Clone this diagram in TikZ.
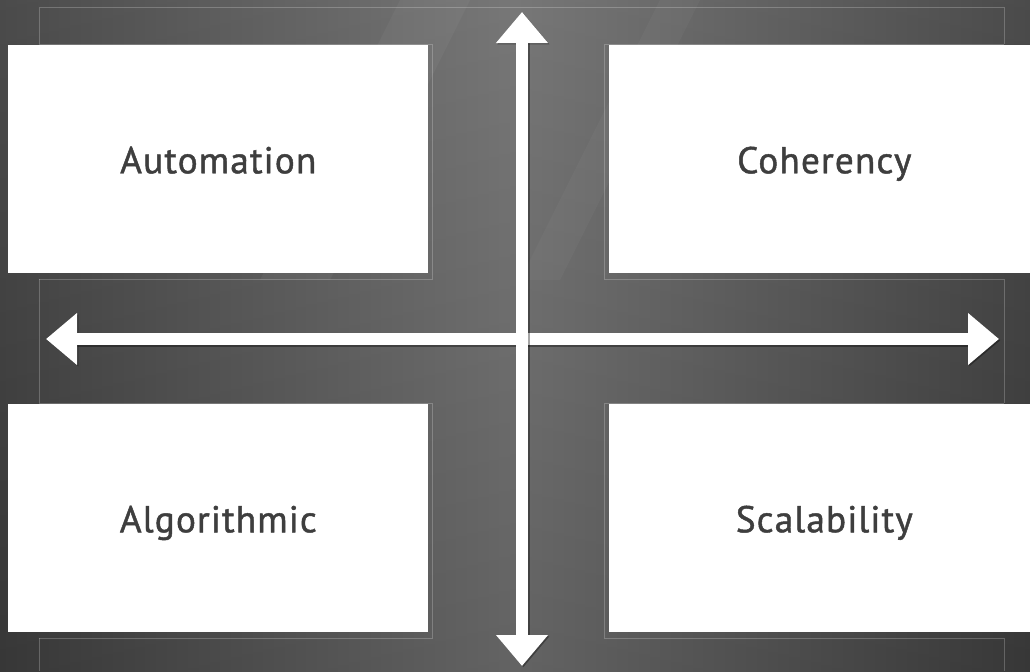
\documentclass[tikz,border=0pt]{standalone}
\usepackage{fontspec}
\setmainfont{PT Sans}
\newfontfamily\boxfont{PT Sans}[FakeBold=1.2,LetterSpace=3]
\usetikzlibrary{arrows.meta}
\definecolor{bgdark}{RGB}{60,60,60}
\definecolor{bglight}{RGB}{108,108,108}
\definecolor{labelgray}{RGB}{62,62,62}

\begin{document}
\begin{tikzpicture}[x=0.75pt,y=0.75pt,yscale=-1,xscale=1,
  quadbox/.style={fill=white,inner sep=0pt,anchor=north west,minimum height=171pt,
    text height=27pt,text depth=6pt,text=labelgray,font=\boxfont\fontsize{28}{32}\selectfont},
  frameline/.style={draw=white,draw opacity=0.22,line width=0.6pt},
  axisarrow/.style={draw=white,line width=9pt,
    {Triangle[width=37.5pt,length=23.25pt]}-{Triangle[width=37.5pt,length=23.25pt]}},
  axisshadow/.style={axisarrow,draw=black,draw opacity=0.35,line width=10.5pt}]
\useasboundingbox (0,0) rectangle (1030,671);

%Background
\shade[left color=bgdark,right color=bgdark,middle color=bglight] (0,0) rectangle (1030,671);
\shade[top color=white,bottom color=black,opacity=0.08] (0,0) rectangle (1030,671);
%Light streaks
\fill[white,opacity=0.04] (400,0) -- (470,0) -- (330,280) -- (260,280) -- cycle;
\fill[white,opacity=0.03] (660,0) -- (700,0) -- (560,280) -- (520,280) -- cycle;

%Frame lines
\draw[frameline] (39,44) -- (39,7) -- (1004,7) -- (1004,44);
\draw[frameline] (39,44) -- (432,44) -- (432,279) -- (39,279);
\draw[frameline] (1004,44) -- (604,44) -- (604,279) -- (1004,279);
\draw[frameline] (39,279) -- (39,403) (1004,279) -- (1004,403);
\draw[frameline] (39,403) -- (432,403) -- (432,638) -- (39,638);
\draw[frameline] (1004,403) -- (604,403) -- (604,638) -- (1004,638);
\draw[frameline] (39,638) -- (39,671) (1004,638) -- (1004,671);

%Boxes
\node[quadbox,minimum width=315pt] (automation) at (8,45) {Automation};
\node[quadbox,minimum width=322.5pt] (coherency) at (609,45) {Coherency};
\node[quadbox,minimum width=315pt] (algorithmic) at (8,404) {Algorithmic};
\node[quadbox,minimum width=322.5pt] (scalability) at (609,404) {Scalability};

%Axes
\coordinate (north) at (522,12);
\coordinate (south) at (522,666);
\coordinate (west) at (46,339);
\coordinate (east) at (999,339);
\draw[axisshadow,transform canvas={shift={(1pt,-1pt)}}] (west) -- (east);
\draw[axisarrow] (west) -- (east);
\draw[axisshadow,transform canvas={shift={(1pt,-1pt)}}] (north) -- (south);
\draw[axisarrow] (north) -- (south);

\end{tikzpicture}
\end{document}
